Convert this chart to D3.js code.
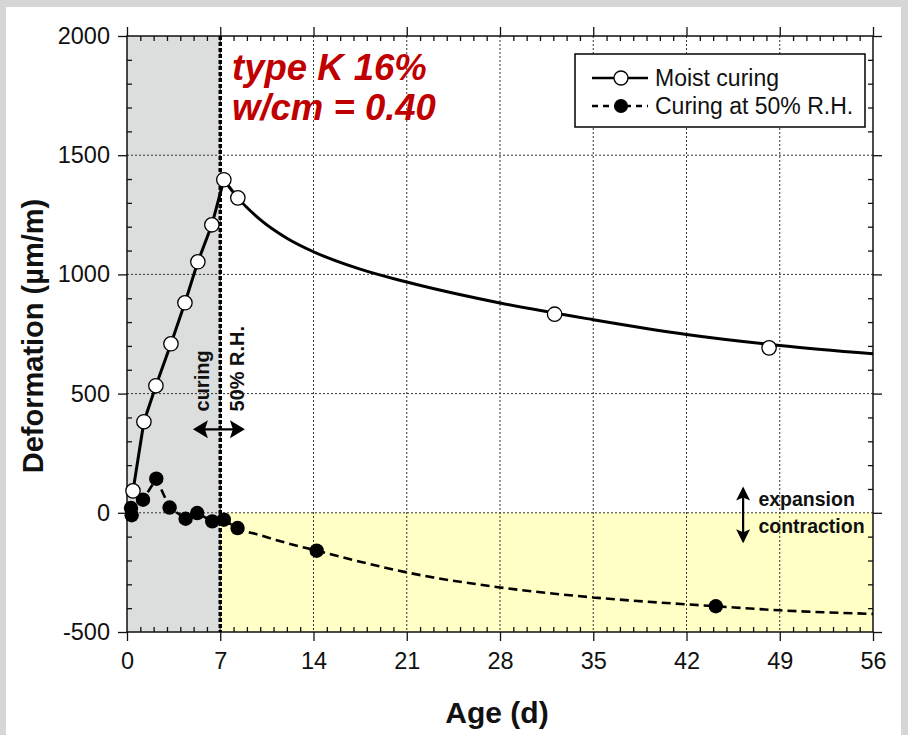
<!DOCTYPE html>
<html lang="en">
<head>
    <meta charset="UTF-8">
    <title>Deformation vs age</title>
    <script src="https://d3js.org/d3.v7.min.js"></script>
    <style>
        body {
            margin: 0;
            padding: 0;
            background: #d6d6d6;
            font-family: "Liberation Sans", Arial, sans-serif;
        }
        svg {
            display: block;
        }
        .grid line {
            stroke: #333;
            stroke-width: 1;
            stroke-dasharray: 2, 2;
        }
        .tick text {
            font-family: "Liberation Sans", Arial, sans-serif;
            font-size: 23.5px;
            fill: #111;
        }
        .tick line {
            stroke: #111;
            stroke-width: 1.3;
        }
    </style>
</head>
<body>
    <svg id="chart" width="908" height="735"></svg>

    <script>
        // Moist curing: measured points
        const moistAge = [0.45, 1.27, 2.17, 3.3, 4.35, 5.32, 6.37, 7.27, 8.32, 32.1, 48.2];
        const moistDef = [92, 382, 533, 709, 881, 1053, 1208, 1397, 1321, 833, 692];
        // Moist curing: fitted decay curve after the peak
        const moistFitAge = [7.27, 8.32, 10, 12, 14, 17.5, 21, 28, 35, 42, 49, 56];
        const moistFitDef = [1397, 1321, 1230, 1152, 1095, 1022, 968, 880, 810, 748, 702, 667];

        // Curing at 50% R.H.: measured points
        const dryAge = [0.3, 0.35, 1.2, 2.2, 3.2, 4.4, 5.27, 6.4, 7.27, 8.3, 14.24, 44.2];
        const dryDef = [20, -10, 55, 143, 22, -25, -1, -36, -29, -64, -159, -392];
        // Curing at 50% R.H.: fitted curve from day 7 on
        const dryFitAge = [7.27, 8.3, 10, 12, 14.24, 17.5, 21, 28, 35, 42, 44.2, 49, 56];
        const dryFitDef = [-29, -64, -94, -127, -159, -205, -250, -313, -355, -384, -392, -409, -424];

        const xTicks = [0, 7, 14, 21, 28, 35, 42, 49, 56];
        const yTicks = [-500, 0, 500, 1000, 1500, 2000];

        const svg = d3.select("#chart");

        // white card on grey frame
        svg.append("rect").attr("x", 0).attr("y", 0).attr("width", 908).attr("height", 735).attr("fill", "#d6d6d6");
        svg.append("rect").attr("x", 6).attr("y", 7).attr("width", 895).attr("height", 740).attr("fill", "#ffffff");

        const pLeft = 127, pRight = 873, pTop = 36, pBottom = 632;
        const x = d3.scaleLinear().domain([0, 56]).range([pLeft, pRight]);
        const y = d3.scaleLinear().domain([-500, 2000]).range([pBottom, pTop]);

        // shaded zones: before drying (grey) and contraction (yellow)
        svg.append("rect")
            .attr("x", x(0)).attr("y", y(2000))
            .attr("width", x(7) - x(0)).attr("height", y(-500) - y(2000))
            .attr("fill", "#dcdddd");
        svg.append("rect")
            .attr("x", x(7)).attr("y", y(0))
            .attr("width", x(56) - x(7)).attr("height", y(-500) - y(0))
            .attr("fill", "#ffffc6");

        // dotted grid
        const grid = svg.append("g").attr("class", "grid");
        grid.selectAll(".gx").data(xTicks.slice(1, -1)).enter().append("line")
            .attr("x1", d => x(d)).attr("x2", d => x(d))
            .attr("y1", pTop).attr("y2", pBottom);
        grid.selectAll(".gy").data(yTicks.slice(1, -1)).enter().append("line")
            .attr("x1", pLeft).attr("x2", pRight)
            .attr("y1", d => y(d)).attr("y2", d => y(d));

        // axes: major ticks outward, minor ticks inward, on all four sides
        const minorX = d3.range(0, 57, 1).filter(d => d % 7 !== 0);
        const minorY = d3.range(-500, 2001, 100).filter(d => d % 500 !== 0);

        function addAxis(axisFn, scale, pos, major, minor, labels) {
            const g1 = svg.append("g").attr("transform", pos)
                .call(axisFn(scale).tickValues(major).tickSize(9).tickSizeOuter(0)
                    .tickPadding(labels ? 6 : 0).tickFormat(labels ? (d => String(d)) : ""));
            g1.select(".domain").remove();
            const g2 = svg.append("g").attr("transform", pos)
                .call(axisFn(scale).tickValues(minor).tickSize(-5).tickSizeOuter(0).tickFormat(""));
            g2.select(".domain").remove();
            return g1;
        }
        const xAx = addAxis(d3.axisBottom, x, `translate(0,${pBottom})`, xTicks, minorX, true);
        xAx.selectAll("text").attr("dy", "0.95em");
        addAxis(d3.axisTop, x, `translate(0,${pTop})`, xTicks, minorX, false);
        const yAx = addAxis(d3.axisLeft, y, `translate(${pLeft},0)`, yTicks, minorY, true);
        yAx.selectAll("text").attr("dx", "-2");
        addAxis(d3.axisRight, y, `translate(${pRight},0)`, yTicks, minorY, false);

        svg.append("rect")
            .attr("x", pLeft).attr("y", pTop)
            .attr("width", pRight - pLeft).attr("height", pBottom - pTop)
            .attr("fill", "none").attr("stroke", "#111").attr("stroke-width", 1.5);

        // start of drying at 7 days
        svg.append("line")
            .attr("x1", x(7)).attr("x2", x(7))
            .attr("y1", pTop).attr("y2", pBottom)
            .attr("stroke", "#000").attr("stroke-width", 3.5)
            .attr("stroke-dasharray", "4,2");

        // series lines
        const line = d3.line().x(d => x(d[0])).y(d => y(d[1]));
        const smooth = d3.line().x(d => x(d[0])).y(d => y(d[1])).curve(d3.curveMonotoneX);

        const moistRise = moistAge.slice(0, 8).map((a, i) => [a, moistDef[i]]);
        const moistFit = moistFitAge.map((a, i) => [a, moistFitDef[i]]);
        const dryEarly = dryAge.slice(1, 9).map((a, i) => [a, dryDef[i + 1]]);
        const dryFit = dryFitAge.map((a, i) => [a, dryFitDef[i]]);

        svg.append("path").datum(moistRise).attr("d", line)
            .attr("fill", "none").attr("stroke", "#000").attr("stroke-width", 3);
        svg.append("path").datum(moistFit).attr("d", smooth)
            .attr("fill", "none").attr("stroke", "#000").attr("stroke-width", 3);
        svg.append("path").datum(dryEarly).attr("d", line)
            .attr("fill", "none").attr("stroke", "#000").attr("stroke-width", 2.6)
            .attr("stroke-dasharray", "9,5");
        svg.append("path").datum(dryFit).attr("d", smooth)
            .attr("fill", "none").attr("stroke", "#000").attr("stroke-width", 2.6)
            .attr("stroke-dasharray", "9,5");

        // markers
        svg.selectAll(".dry").data(dryAge).enter().append("circle")
            .attr("cx", d => x(d)).attr("cy", (d, i) => y(dryDef[i]))
            .attr("r", 7.2).attr("fill", "#000");
        svg.selectAll(".moist").data(moistAge).enter().append("circle")
            .attr("cx", d => x(d)).attr("cy", (d, i) => y(moistDef[i]))
            .attr("r", 7.2).attr("fill", "#fff").attr("stroke", "#000").attr("stroke-width", 1.3);

        // mix label
        const title = svg.append("text")
            .attr("x", 232).attr("y", 80)
            .attr("fill", "#c00000")
            .attr("font-size", 36.5).attr("font-weight", "bold").attr("font-style", "italic");
        title.append("tspan").attr("x", 232).text("type K 16%");
        title.append("tspan").attr("x", 232).attr("dy", 40).text("w/cm = 0.40");

        // legend
        const lg = svg.append("g");
        lg.append("rect").attr("x", 575).attr("y", 54).attr("width", 290).attr("height", 73)
            .attr("fill", "#fff").attr("stroke", "#000").attr("stroke-width", 1.5);
        lg.append("line").attr("x1", 592).attr("x2", 648).attr("y1", 78).attr("y2", 78)
            .attr("stroke", "#000").attr("stroke-width", 2.6);
        lg.append("circle").attr("cx", 621).attr("cy", 78).attr("r", 7)
            .attr("fill", "#fff").attr("stroke", "#000").attr("stroke-width", 1.3);
        lg.append("line").attr("x1", 592).attr("x2", 648).attr("y1", 106).attr("y2", 106)
            .attr("stroke", "#000").attr("stroke-width", 2.6).attr("stroke-dasharray", "6,5");
        lg.append("circle").attr("cx", 621).attr("cy", 106).attr("r", 7).attr("fill", "#000");
        lg.append("text").attr("x", 655).attr("y", 86).attr("font-size", 23).attr("fill", "#111").text("Moist curing");
        lg.append("text").attr("x", 655).attr("y", 114).attr("font-size", 23).attr("fill", "#111").text("Curing at 50% R.H.");

        // curing regime annotation
        function rotLabel(ax, def, txt) {
            svg.append("text")
                .attr("transform", `translate(${x(ax)},${y(def)}) rotate(-90)`)
                .attr("font-size", 20).attr("font-weight", "bold").attr("fill", "#111")
                .text(txt);
        }
        rotLabel(6.15, 425, "curing");
        rotLabel(8.75, 425, "50% R.H.");

        function arrowHead(px, py, dx, dy, len, half, notch) {
            // dx, dy: unit direction of the arrow tip
            const nx = -dy, ny = dx;
            const bx = px - dx * len, by = py - dy * len;
            const mx = px - dx * (len - notch), my = py - dy * (len - notch);
            return `M${px},${py}L${bx + nx * half},${by + ny * half}L${mx},${my}L${bx - nx * half},${by - ny * half}Z`;
        }
        const ay = y(350);
        svg.append("line").attr("x1", x(4.95) + 4).attr("x2", x(8.85) - 4).attr("y1", ay).attr("y2", ay)
            .attr("stroke", "#000").attr("stroke-width", 2.2);
        svg.append("path").attr("d", arrowHead(x(4.95), ay, -1, 0, 15, 9, 3)).attr("fill", "#000");
        svg.append("path").attr("d", arrowHead(x(8.85), ay, 1, 0, 15, 9, 3)).attr("fill", "#000");

        // expansion / contraction marker
        const ex = x(46.25);
        svg.append("line").attr("x1", ex).attr("x2", ex).attr("y1", y(100)).attr("y2", y(-120))
            .attr("stroke", "#000").attr("stroke-width", 2.2);
        svg.append("path").attr("d", arrowHead(ex, y(110), 0, -1, 14, 7, 3)).attr("fill", "#000");
        svg.append("path").attr("d", arrowHead(ex, y(-128), 0, 1, 14, 7, 3)).attr("fill", "#000");
        svg.append("text").attr("x", x(47.4)).attr("y", y(28))
            .attr("font-size", 19.5).attr("font-weight", "bold").attr("fill", "#111").text("expansion");
        svg.append("text").attr("x", x(47.4)).attr("y", y(-85))
            .attr("font-size", 19.5).attr("font-weight", "bold").attr("fill", "#111").text("contraction");

        // axis titles
        svg.append("text")
            .attr("x", 497).attr("y", 723)
            .attr("text-anchor", "middle")
            .attr("font-size", 30).attr("font-weight", "bold").attr("fill", "#111")
            .text("Age (d)");
        svg.append("text")
            .attr("transform", `translate(43,336) rotate(-90)`)
            .attr("text-anchor", "middle")
            .attr("font-size", 29).attr("font-weight", "bold").attr("fill", "#111")
            .text("Deformation (µm/m)");
    </script>
</body>
</html>
